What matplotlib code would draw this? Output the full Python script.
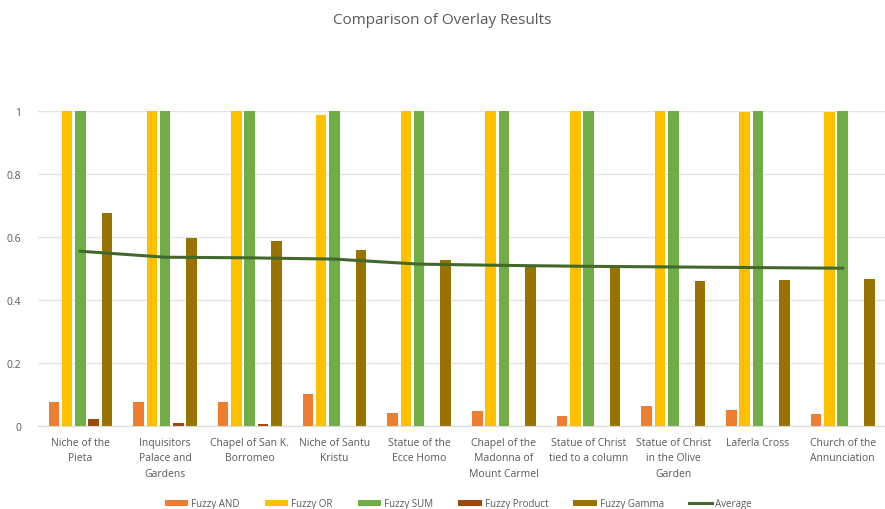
import numpy as np
import matplotlib.pyplot as plt

# Overlay results per site
sites = ['Niche of the\nPieta', 'Inquisitors\nPalace and\nGardens', 'Chapel of San K.\nBorromeo',
         'Niche of Santu\nKristu', 'Statue of the\nEcce Homo', 'Chapel of the\nMadonna of\nMount Carmel',
         'Statue of Christ\ntied to a column', 'Statue of Christ\nin the Olive\nGarden',
         'Laferla Cross', 'Church of the\nAnnunciation']
fuzzy_and = [0.077, 0.077, 0.077, 0.100, 0.042, 0.048, 0.032, 0.064, 0.050, 0.037]
fuzzy_or = [1.0, 1.0, 1.0, 0.988, 1.0, 1.0, 1.0, 1.0, 0.998, 0.997]
fuzzy_sum = [1.0, 1.0, 1.0, 1.0, 1.0, 1.0, 1.0, 1.0, 1.0, 1.0]
fuzzy_product = [0.021, 0.008, 0.005, 0.0, 0.0, 0.0, 0.0, 0.0, 0.0, 0.0]
fuzzy_gamma = [0.676, 0.597, 0.588, 0.560, 0.527, 0.504, 0.502, 0.459, 0.463, 0.467]
average = [0.555, 0.536, 0.534, 0.530, 0.514, 0.510, 0.507, 0.505, 0.503, 0.501]

series = [('Fuzzy AND', fuzzy_and, '#ED7D31'),
          ('Fuzzy OR', fuzzy_or, '#FFC000'),
          ('Fuzzy SUM', fuzzy_sum, '#70AD47'),
          ('Fuzzy Product', fuzzy_product, '#9E480E'),
          ('Fuzzy Gamma', fuzzy_gamma, '#997300')]

text_color = '#595959'
plt.rcParams['font.family'] = 'Open Sans'

fig = plt.figure(figsize=(8.85, 5.1), dpi=100)
ax = fig.add_axes([0.043, 0.163, 0.957, 0.617])

x = np.arange(len(sites))
step = 0.157
width = 0.125
handles = []
for i, (name, vals, color) in enumerate(series):
    h = ax.bar(x + (i - 2) * step, vals, width, color=color, label=name, zorder=2)
    handles.append(h)

line, = ax.plot(x, average, color='#43682B', linewidth=2.2, label='Average', zorder=3)
handles.append(line)

ax.set_xlim(-0.5, len(sites) - 0.5)
ax.set_ylim(0, 1)
ax.set_yticks([0, 0.2, 0.4, 0.6, 0.8, 1])
ax.set_yticklabels(['0', '0.2', '0.4', '0.6', '0.8', '1'])
ax.set_xticks(x)
ax.set_xticklabels(sites, linespacing=1.55)
ax.tick_params(axis='both', length=0, colors=text_color, labelsize=7.5)
ax.tick_params(axis='x', pad=8)
ax.tick_params(axis='y', pad=12)
ax.grid(axis='y', color='#E3E3E3', linewidth=1, zorder=0)
for side in ['top', 'right', 'left']:
    ax.spines[side].set_visible(False)
ax.spines['bottom'].set_color('#D9D9D9')

fig.suptitle('Comparison of Overlay Results', y=0.975, fontsize=11, color=text_color)

fig.legend(handles=handles, labels=[h.get_label() for h in handles],
           loc='lower center', bbox_to_anchor=(0.518, -0.018), ncol=6, frameon=False,
           fontsize=7, labelcolor=text_color, handlelength=2.4, handleheight=0.6,
           columnspacing=2.6, handletextpad=0.3)

fig.savefig('out.png', dpi=100)
